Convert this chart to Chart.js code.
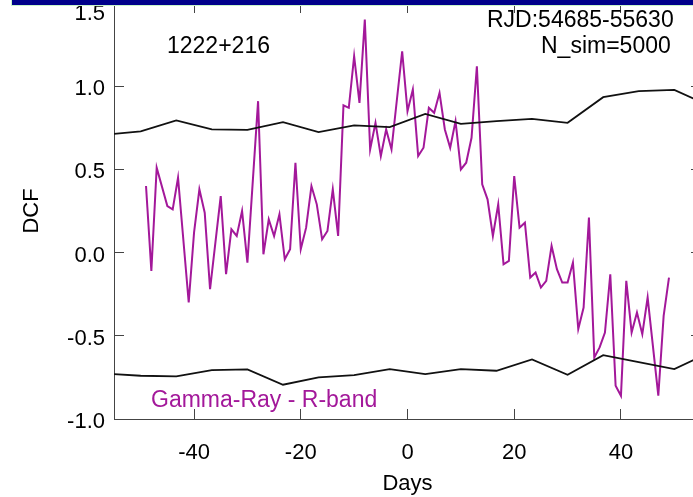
<!DOCTYPE html>
<html>
<head>
<meta charset="utf-8">
<script src="https://cdn.jsdelivr.net/npm/chart.js@4.4.0/dist/chart.umd.min.js"></script>
<style>
  html, body { margin: 0; padding: 0; background: #fff; overflow: hidden; }
  #wrap { position: relative; width: 705px; height: 497px; }
  #topbar { position: absolute; left: 11px; top: 0; width: 700px; height: 5px; background: #00008a; border-left: 1px solid #c8f5c8; border-bottom: 1px solid #c8f5c8; }
</style>
</head>
<body>
<div id="wrap">
  <canvas id="dcf" width="705" height="497"></canvas>
  <div id="topbar"></div>
</div>
<script>
// DCF gamma-ray vs R-band, 1222+216
const objectName = "1222+216";
const dateRange = "RJD:54685-55630";
const simLabel = "N_sim=5000";
const seriesLabel = "Gamma-Ray - R-band";

const dcfLags = [-49, -48, -47, -45, -44, -43, -41, -40, -39, -38, -37, -35, -34, -33, -32, -31, -30,
  -28, -27, -26, -25, -24, -23, -22, -21, -20, -19, -18, -17, -16, -15, -14, -13, -12, -11, -10,
  -9, -8, -7, -6, -5, -4, -3, -1, 0, 1, 2, 3, 4, 5, 6, 7, 8, 9, 10, 11, 12, 13, 14, 15, 16, 17,
  18, 19, 20, 21, 22, 23, 24, 25, 26, 27, 28, 29, 30, 31, 32, 33, 34, 35, 36, 37, 38, 39, 40,
  41, 42, 43, 44, 45, 47, 48, 49];
const dcfValues = [0.40, -0.11, 0.51, 0.28, 0.26, 0.45, -0.30, 0.12, 0.38, 0.24, -0.22, 0.34, -0.13, 0.14, 0.10, 0.25, -0.06,
  0.91, -0.01, 0.20, 0.10, 0.23, -0.04, 0.02, 0.54, 0.02, 0.15, 0.40, 0.29, 0.08, 0.13, 0.38, 0.10, 0.885, 0.87, 1.18,
  0.90, 1.40, 0.62, 0.78, 0.58, 0.74, 0.62, 1.21, 0.85, 0.98, 0.58, 0.63, 0.87, 0.84, 0.96, 0.74, 0.63, 0.79, 0.50, 0.54, 0.69, 1.12, 0.41, 0.32, 0.10, 0.29,
  -0.07, -0.05, 0.46, 0.15, 0.18, -0.15, -0.12, -0.21, -0.17, 0.04, -0.10, -0.18, -0.18, -0.06, -0.46, -0.33, 0.21, -0.63, -0.57, -0.48, -0.13, -0.80, -0.86,
  -0.17, -0.48, -0.36, -0.49, -0.27, -0.86, -0.38, -0.15];

const simLags = [-55, -50, -43.33, -36.67, -30, -23.33, -16.67, -10, -3.33, 3.33, 10, 16.67, 23.33, 30, 36.67, 43.33, 50, 55];
const upperLevel = [0.714, 0.728, 0.794, 0.74, 0.738, 0.784, 0.724, 0.764, 0.754, 0.834, 0.774, 0.79, 0.804, 0.78, 0.934, 0.97, 0.978, 0.905];
const lowerLevel = [-0.73, -0.74, -0.744, -0.706, -0.702, -0.794, -0.75, -0.736, -0.70, -0.73, -0.70, -0.71, -0.642, -0.734, -0.616, -0.658, -0.70, -0.625];

const xTicks = [-40, -20, 0, 20, 40];
const yTicks = [-1.0, -0.5, 0.0, 0.5, 1.0, 1.5];

const purple = "#a3189a";
const axisColor = "#444";
const fontFamily = '"Liberation Sans", Arial, Helvetica, sans-serif';
Chart.defaults.font.family = fontFamily;
Chart.defaults.color = "#000";

function toPoints(xs, ys) {
  return xs.map(function(x, i) { return {x: x, y: ys[i]}; });
}

function setTicks(values) {
  return function(scale) {
    scale.ticks = values.map(function(v) { return {value: v}; });
  };
}

function axisGrid() {
  return { drawOnChartArea: false, drawTicks: true, tickLength: -10, tickColor: axisColor, color: axisColor };
}

// fixed box sizes, no extra label padding around the plot
function fixWidth(w) {
  return function(scale) {
    scale.width = w;
    scale.paddingTop = 0;
    scale.paddingBottom = 0;
  };
}

const textPlugin = {
  id: "dcfText",
  beforeDraw(chart) {
    // IDL keeps the top label inside the box
    const items = chart.scales.y.getLabelItems();
    items.forEach(function(item) {
      if (item.label === "1.5" && !item.moved) {
        item.options.translation[1] += 8;
        item.moved = true;
      }
    });
  },
  afterDraw(chart) {
    const ctx = chart.ctx;
    ctx.save();
    ctx.textBaseline = "alphabetic";
    ctx.textAlign = "left";
    ctx.fillStyle = "#000";
    ctx.font = "23px " + fontFamily;
    ctx.fillText(objectName, 167, 53);
    ctx.fillText(dateRange, 487, 27);
    ctx.fillText(simLabel, 541, 53);
    ctx.fillStyle = purple;
    ctx.fillText(seriesLabel, 151, 407);
    ctx.restore();
  }
};

const ctx = document.getElementById("dcf").getContext("2d");
const chart = new Chart(ctx, {
  type: "scatter",
  plugins: [textPlugin],
  data: {
    datasets: [
      {
        label: "upper",
        data: toPoints(simLags, upperLevel),
        showLine: true,
        borderColor: "#111",
        borderWidth: 1.8,
        pointRadius: 0,
        tension: 0
      },
      {
        label: "lower",
        data: toPoints(simLags, lowerLevel),
        showLine: true,
        borderColor: "#111",
        borderWidth: 1.8,
        pointRadius: 0,
        tension: 0
      },
      {
        label: seriesLabel,
        data: toPoints(dcfLags, dcfValues),
        showLine: true,
        borderColor: purple,
        borderWidth: 2,
        pointRadius: 0,
        tension: 0
      }
    ]
  },
  options: {
    responsive: false,
    animation: false,
    layout: { padding: 0 },
    plugins: {
      legend: { display: false },
      tooltip: { enabled: false }
    },
    scales: {
      x: {
        type: "linear",
        position: "bottom",
        min: -55,
        max: 55,
        afterBuildTicks: setTicks(xTicks),
        afterFit: function(scale) { scale.height = 78; },
        grid: axisGrid(),
        border: { display: true, color: axisColor, width: 1 },
        ticks: { padding: 31, maxRotation: 0, font: { size: 22 }, color: "#000" },
        title: { display: true, text: "Days", font: { size: 22 }, color: "#000", padding: { top: 0, bottom: 0 } }
      },
      x2: {
        type: "linear",
        position: "top",
        min: -55,
        max: 55,
        afterBuildTicks: setTicks(xTicks),
        afterFit: function(scale) { scale.height = 3; },
        grid: axisGrid(),
        border: { display: true, color: axisColor, width: 1 },
        ticks: { display: false }
      },
      y: {
        type: "linear",
        position: "left",
        min: -1,
        max: 1.5,
        afterBuildTicks: setTicks(yTicks),
        afterFit: fixWidth(114),
        grid: axisGrid(),
        border: { display: true, color: axisColor, width: 1 },
        ticks: {
          padding: 19,
          labelOffset: 3,
          font: { size: 22 },
          color: "#000",
          callback: function(v) { return Number(v).toFixed(1); }
        },
        title: { display: true, text: "DCF", font: { size: 22 }, color: "#000", padding: { top: 19, bottom: 0 } }
      },
      y2: {
        type: "linear",
        position: "right",
        min: -1,
        max: 1.5,
        afterBuildTicks: setTicks(yTicks),
        afterFit: fixWidth(4),
        grid: axisGrid(),
        border: { display: true, color: axisColor, width: 1 },
        ticks: { display: false }
      }
    }
  }
});
</script>
</body>
</html>
